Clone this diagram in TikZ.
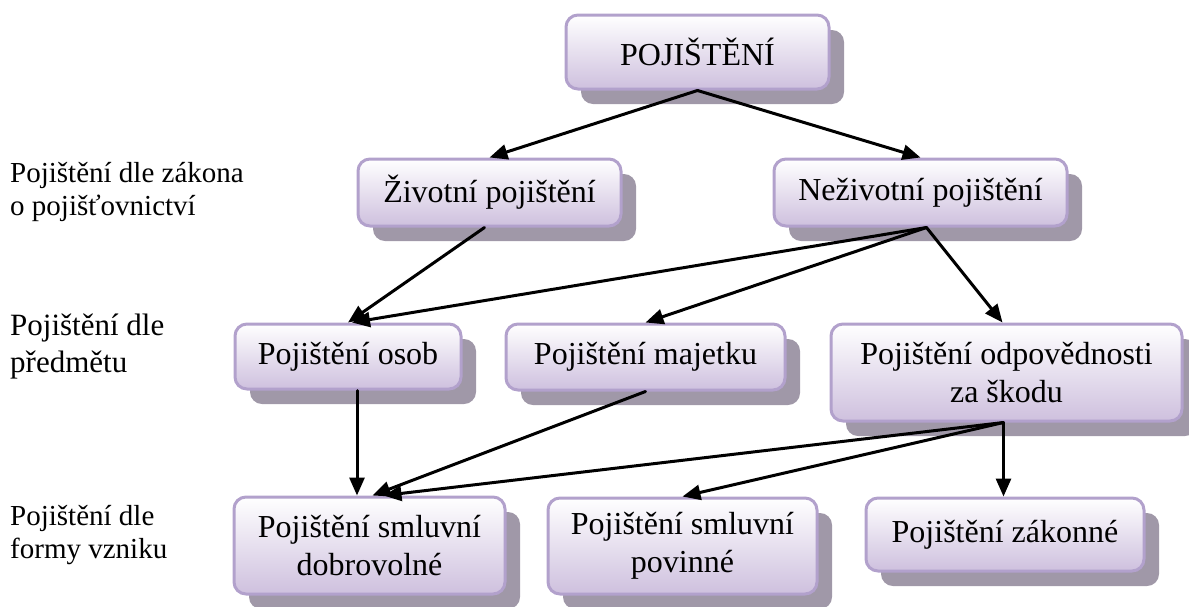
\documentclass[tikz,border=0pt]{standalone}
\usepackage{fontspec}
\setmainfont{Liberation Serif}
\usetikzlibrary{shadows,arrows.meta}
\definecolor{ramec}{RGB}{178,161,204}
\definecolor{spodek}{RGB}{206,192,222}
\definecolor{stin}{RGB}{160,152,168}
\begin{document}
\begin{tikzpicture}[x=1pt, y=-1pt, line join=round, line cap=round, >={Triangle[length=18pt,width=15pt]},
		pojbox/.style={draw=ramec, line width=3pt, rounded corners=12pt, top color=white, bottom color=spodek, align=center, inner sep=0pt, font=\fontsize{32}{38}\selectfont, drop shadow={shadow xshift=15pt, shadow yshift=-15pt, fill=stin, opacity=1}},
		popis/.style={anchor=west, align=left, inner sep=0pt},
		sipka/.style={->, line width=3pt}]
	\useasboundingbox (0,0) rectangle (1189,606);
	\clip (0,0) rectangle (1189,606);
	% levy popis urovni
	\node[popis, font=\fontsize{29}{33}\selectfont] (zakon) at (10,192) {Pojištění dle zákona\\o pojišťovnictví};
	\node[popis, font=\fontsize{31}{37}\selectfont] (predmet) at (10,347) {Pojištění dle\\předmětu};
	\node[popis, font=\fontsize{29}{33}\selectfont] (forma) at (10,535) {Pojištění dle\\formy vzniku};
	% krabice
	\node[pojbox, minimum width=263pt, minimum height=74pt] (poj) at (697.5,52) {POJIŠTĚNÍ};
	\node[pojbox, minimum width=263pt, minimum height=67pt] (ziv) at (489.5,192.5) {Životní pojištění};
	\node[pojbox, minimum width=293pt, minimum height=67pt] (neziv) at (920.5,192.5) {Neživotní pojištění};
	\node[pojbox, minimum width=226pt, minimum height=65pt] (osob) at (348,356.5) {Pojištění osob};
	\node[pojbox, minimum width=279pt, minimum height=66pt] (majetek) at (645.5,357) {Pojištění majetku};
	\node[pojbox, minimum width=351pt, minimum height=97pt] (odpov) at (1006.5,372.5) {Pojištění odpovědnosti\\za škodu};
	\node[pojbox, minimum width=271pt, minimum height=97pt] (dobrov) at (369.5,545.5) {Pojištění smluvní\\dobrovolné};
	\node[pojbox, minimum width=269pt, minimum height=96pt] (povin) at (682.5,546) {Pojištění smluvní\\povinné};
	\node[pojbox, minimum width=278pt, minimum height=73pt] (zakonne) at (1005,534.5) {Pojištění zákonné};
	% sipky
	\draw[sipka] (poj.south) -- (ziv.north);
	\draw[sipka] (poj.south) -- (neziv.north);
	\draw[sipka] ([xshift=-5pt]ziv.south) -- (osob.north);
	\draw[sipka] ([xshift=6pt]neziv.south) -- ([xshift=4pt]osob.north);
	\draw[sipka] ([xshift=6pt]neziv.south) -- (majetek.north);
	\draw[sipka] ([xshift=6pt]neziv.south) -- ([xshift=-4pt]odpov.north);
	\draw[sipka] ([xshift=9pt]osob.south) -- ([xshift=9pt]osob.south |- dobrov.north);
	\draw[sipka] (majetek.south) -- ([xshift=3pt]dobrov.north);
	\draw[sipka] ([xshift=-3pt]odpov.south) -- ([xshift=14pt]dobrov.north);
	\draw[sipka] ([xshift=-3pt]odpov.south) -- (povin.north);
	\draw[sipka] ([xshift=-3pt]odpov.south) -- ([xshift=-3pt]odpov.south |- zakonne.north);
\end{tikzpicture}
\end{document}
